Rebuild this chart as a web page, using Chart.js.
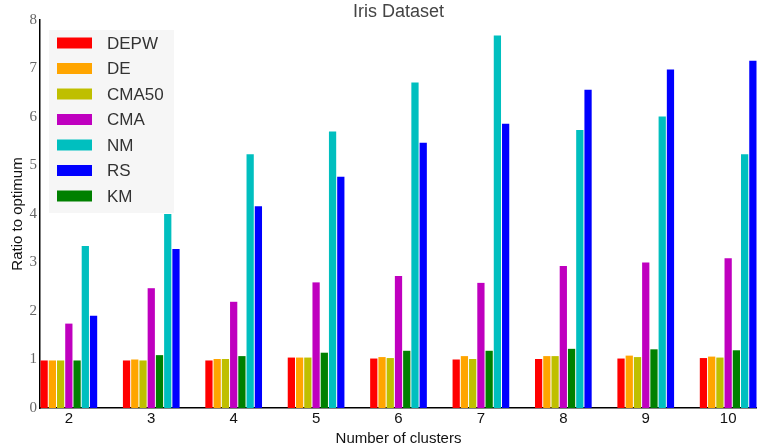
<!DOCTYPE html>
<html>
<head>
<meta charset="utf-8">
<title>Iris Dataset</title>
<script src="https://cdn.jsdelivr.net/npm/chart.js@4/dist/chart.umd.min.js"></script>
<style>
	html, body { margin: 0; padding: 0; background: #fff; }
	#wrap { width: 757px; height: 448px; }
</style>
</head>
<body>
<div id="wrap"><canvas id="barcanvas" width="757" height="448"></canvas></div>
<script>

var chartTitle = 'Iris Dataset';
var clusters = [2, 3, 4, 5, 6, 7, 8, 9, 10];
var yTicks = [0, 1, 2, 3, 4, 5, 6, 7, 8];

// bar order inside each group
var DEPW  = [0.98, 0.98, 0.98, 1.04, 1.02, 1.00, 1.01, 1.02, 1.03];
var DE    = [0.98, 1.00, 1.01, 1.04, 1.05, 1.07, 1.07, 1.08, 1.06];
var CMA50 = [0.98, 0.98, 1.01, 1.04, 1.03, 1.01, 1.07, 1.05, 1.04];
var CMA   = [1.74, 2.47, 2.19, 2.59, 2.72, 2.58, 2.93, 3.00, 3.09];
var KM    = [0.98, 1.09, 1.07, 1.14, 1.18, 1.18, 1.22, 1.21, 1.19];
var NM    = [3.34, 4.00, 5.23, 5.70, 6.71, 7.68, 5.73, 6.01, 5.23];
var RS    = [1.90, 3.28, 4.16, 4.77, 5.47, 5.86, 6.56, 6.98, 7.16];

var legendOrder = ['DEPW', 'DE', 'CMA50', 'CMA', 'NM', 'RS', 'KM'];

function pts(vals) {
	return vals.map(function(v, i) { return {x: clusters[i], y: v}; });
}

var series = [
	{label: 'DEPW', data: DEPW, color: '#ff0000'},
	{label: 'DE', data: DE, color: '#ffa500'},
	{label: 'CMA50', data: CMA50, color: '#bfbf00'},
	{label: 'CMA', data: CMA, color: '#bf00bf'},
	{label: 'KM', data: KM, color: '#008000'},
	{label: 'NM', data: NM, color: '#00bfbf'},
	{label: 'RS', data: RS, color: '#0000ff'}
];

// title centred over the plot, legend inside the plot (upper left)
var innerLegend = {
	id: 'innerLegend',
	afterDraw: function(chart) {
		var ctx = chart.ctx;
		var a = chart.chartArea;
		ctx.save();
		ctx.fillStyle = '#444';
		ctx.font = '18px "Liberation Sans", Arial, sans-serif';
		ctx.textAlign = 'center';
		ctx.textBaseline = 'middle';
		ctx.fillText(chartTitle, (a.left + a.right) / 2, 12);

		var x0 = a.left + 9, y0 = a.top + 10;
		ctx.fillStyle = 'rgba(245,245,245,0.92)';
		ctx.fillRect(x0, y0, 125, 183);
		ctx.font = '17px "Liberation Sans", Arial, sans-serif';
		ctx.textAlign = 'left';
		legendOrder.forEach(function(name, i) {
			var ds = chart.data.datasets.find(function(d) { return d.label === name; });
			var cy = y0 + 13 + i * 25.5;
			ctx.fillStyle = ds.backgroundColor;
			ctx.fillRect(x0 + 8, cy - 5.5, 35, 11);
			ctx.fillStyle = '#333';
			ctx.fillText(name, x0 + 58, cy + 1);
		});
		ctx.restore();
	}
};

window.onload = function() {
	var ctx = document.getElementById('barcanvas').getContext('2d');
	window.myBar = new Chart(ctx, {
		type: 'bar',
		data: {
			datasets: series.map(function(s) {
				return {
					label: s.label,
					data: pts(s.data),
					backgroundColor: s.color,
					borderWidth: 0,
					categoryPercentage: 0.7,
					barPercentage: 0.88
				};
			})
		},
		options: {
			responsive: false,
			animation: false,
			layout: {padding: {left: 0, right: 0, top: 20, bottom: 0}},
			plugins: {
				legend: {display: false},
				tooltip: {enabled: false},
				title: {display: false}
			},
			scales: {
				x: {
					type: 'linear',
					min: 1.65,
					max: 10.35,
					offset: false,
					grid: {display: false, drawTicks: false},
					border: {display: true, color: '#000', width: 1.5},
					afterBuildTicks: function(scale) {
						scale.ticks = clusters.map(function(v) { return {value: v}; });
					},
					ticks: {
						color: '#111',
						padding: 2,
						maxRotation: 0,
						font: {family: '"Liberation Sans", Arial, sans-serif', size: 15}
					},
					title: {
						display: true,
						text: 'Number of clusters',
						color: '#111',
						padding: {top: 0, bottom: 0},
						font: {family: '"Liberation Sans", Arial, sans-serif', size: 15}
					},
					afterFit: function(scale) { scale.height = 40; }
				},
				y: {
					min: 0,
					max: 8,
					grid: {display: false, drawTicks: false},
					border: {display: true, color: '#000', width: 1.5},
					afterBuildTicks: function(scale) {
						scale.ticks = yTicks.map(function(v) { return {value: v}; });
					},
					ticks: {
						color: '#666',
						padding: 3,
						font: {family: '"Liberation Serif", "DejaVu Serif", serif', size: 15}
					},
					title: {
						display: true,
						text: 'Ratio to optimum',
						color: '#111',
						padding: {top: 9, bottom: 2},
						font: {family: '"Liberation Sans", Arial, sans-serif', size: 15}
					},
					afterFit: function(scale) { scale.width = 40; }
				}
			}
		},
		plugins: [innerLegend]
	});
};

</script>
</body>
</html>
